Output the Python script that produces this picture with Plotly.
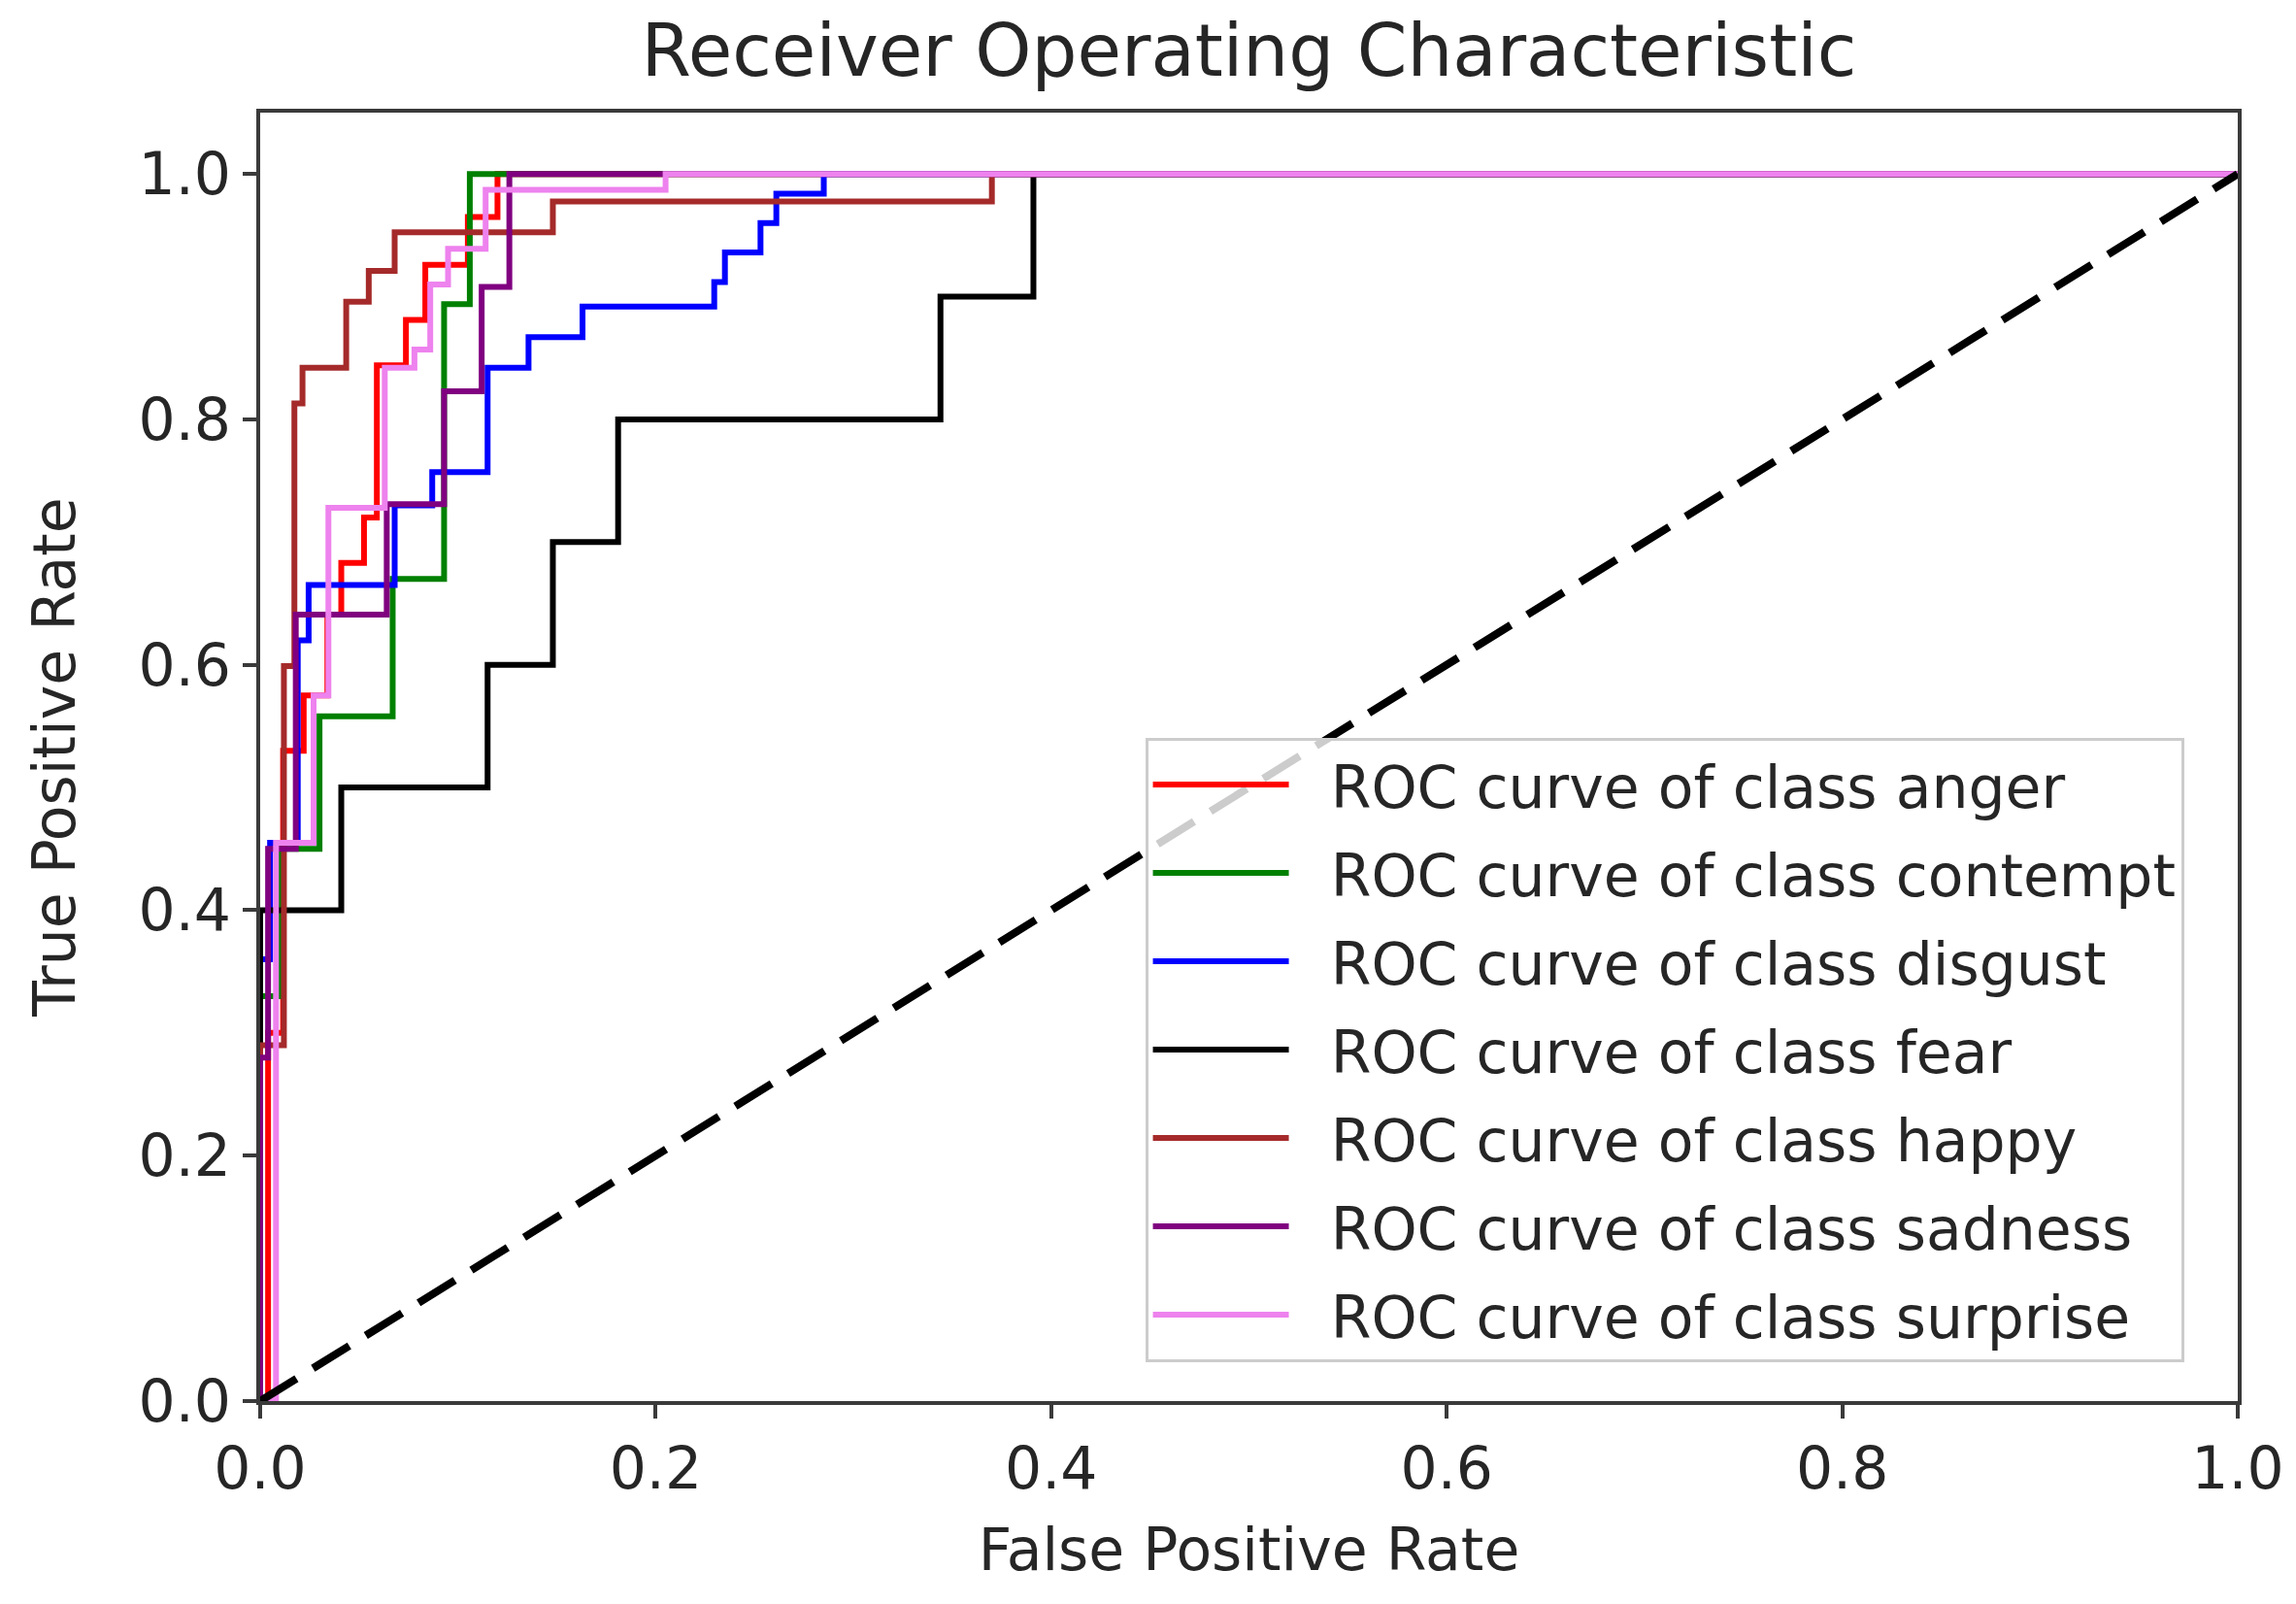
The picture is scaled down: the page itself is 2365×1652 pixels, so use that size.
import plotly.graph_objects as go

# ---------------- data ----------------
class_names = ["anger", "contempt", "disgust", "fear", "happy", "sadness", "surprise"]
class_colors = ["red", "green", "blue", "black", "brown", "purple", "violet"]

fpr_anger = [0.0, 0.004, 0.004, 0.0116, 0.0116, 0.022, 0.022, 0.034, 0.034, 0.041, 0.041, 0.0525,
             0.0525, 0.059, 0.059, 0.0737, 0.0737, 0.0835, 0.0835, 0.105, 0.105, 0.12, 0.12, 1.0]
tpr_anger = [0.0, 0.0, 0.30, 0.30, 0.53, 0.53, 0.575, 0.575, 0.641, 0.641, 0.683, 0.683,
             0.72, 0.72, 0.844, 0.844, 0.881, 0.881, 0.926, 0.926, 0.965, 0.965, 1.0, 1.0]

fpr_contempt = [0.0, 0.0, 0.01, 0.01, 0.03, 0.03, 0.067, 0.067, 0.093, 0.093, 0.106, 0.106, 1.0]
tpr_contempt = [0.0, 0.33, 0.33, 0.45, 0.45, 0.558, 0.558, 0.67, 0.67, 0.894, 0.894, 1.0, 1.0]

fpr_disgust = [0.0, 0.0, 0.005, 0.005, 0.019, 0.019, 0.0245, 0.0245, 0.068, 0.068, 0.087, 0.087,
               0.115, 0.115, 0.1357, 0.1357, 0.163, 0.163, 0.2296, 0.2296, 0.235, 0.235, 0.253, 0.253,
               0.261, 0.261, 0.285, 0.285, 1.0]
tpr_disgust = [0.0, 0.36, 0.36, 0.455, 0.455, 0.62, 0.62, 0.665, 0.665, 0.73, 0.73, 0.757,
               0.757, 0.842, 0.842, 0.867, 0.867, 0.892, 0.892, 0.912, 0.912, 0.936, 0.936, 0.96,
               0.96, 0.984, 0.984, 1.0, 1.0]

fpr_fear = [0.0, 0.0, 0.041, 0.041, 0.115, 0.115, 0.148, 0.148, 0.181, 0.181, 0.344, 0.344,
            0.391, 0.391, 1.0]
tpr_fear = [0.0, 0.4, 0.4, 0.5, 0.5, 0.6, 0.6, 0.7, 0.7, 0.8, 0.8, 0.9, 0.9, 1.0, 1.0]

fpr_happy = [0.0, 0.0, 0.012, 0.012, 0.0173, 0.0173, 0.0214, 0.0214, 0.0435, 0.0435, 0.0549,
             0.0549, 0.068, 0.068, 0.148, 0.148, 0.37, 0.37, 1.0]
tpr_happy = [0.0, 0.29, 0.29, 0.599, 0.599, 0.813, 0.813, 0.842, 0.842, 0.896, 0.896,
             0.921, 0.921, 0.9525, 0.9525, 0.9776, 0.9776, 1.0, 1.0]

fpr_sadness = [0.0, 0.0, 0.004, 0.004, 0.018, 0.018, 0.064, 0.064, 0.093, 0.093, 0.112, 0.112,
               0.126, 0.126, 1.0]
tpr_sadness = [0.0, 0.28, 0.28, 0.45, 0.45, 0.641, 0.641, 0.731, 0.731, 0.823, 0.823, 0.908,
               0.908, 1.0, 1.0]

fpr_surprise = [0.0, 0.008, 0.008, 0.027, 0.027, 0.0345, 0.0345, 0.063, 0.063, 0.078, 0.078,
                0.086, 0.086, 0.095, 0.095, 0.114, 0.114, 0.205, 0.205, 1.0]
tpr_surprise = [0.0, 0.0, 0.455, 0.455, 0.575, 0.575, 0.728, 0.728, 0.842, 0.842, 0.857,
                0.857, 0.91, 0.91, 0.939, 0.939, 0.987, 0.987, 1.0, 1.0]

diag_x = [0.0, 1.0]
diag_y = [0.0, 1.0]

x_ticks = [0.0, 0.2, 0.4, 0.6, 0.8, 1.0]
x_tick_labels = ["0.0", "0.2", "0.4", "0.6", "0.8", "1.0"]
y_ticks = [0.0, 0.2, 0.4, 0.6, 0.8, 1.0]
y_tick_labels = ["0.0", "0.2", "0.4", "0.6", "0.8", "1.0"]

fprs = [fpr_anger, fpr_contempt, fpr_disgust, fpr_fear, fpr_happy, fpr_sadness, fpr_surprise]
tprs = [tpr_anger, tpr_contempt, tpr_disgust, tpr_fear, tpr_happy, tpr_sadness, tpr_surprise]

# ---------------- figure ----------------
FONT = "DejaVu Sans"
TXT = "#262626"
AX = "#3a3a3a"

fig = go.Figure()
for name, col, fx, ty in zip(class_names, class_colors, fprs, tprs):
    fig.add_trace(go.Scatter(
        x=fx, y=ty, mode="lines",
        line=dict(color=col, width=6),
        name="  ROC curve of class " + name,
        legendgroup=name,
    ))

fig.add_trace(go.Scatter(
    x=diag_x, y=diag_y, mode="lines",
    line=dict(color="black", width=8, dash="44px,20px"),
    showlegend=False, hoverinfo="skip",
))

# page body adds an 8px offset; size the figure so the plot area lands where the reference has it
fig.update_layout(
    width=2357, height=1644,
    margin=dict(l=260, r=58, t=108, b=209, pad=0),
    paper_bgcolor="white", plot_bgcolor="white",
    font=dict(family=FONT, size=60, color=TXT),
    title=dict(text="Receiver Operating Characteristic", x=0.5, xref="paper",
               xanchor="center", y=1 - 44 / 1644, yanchor="middle",
               font=dict(family=FONT, size=74, color=TXT)),
    showlegend=True,
    legend=dict(
        x=0.4475, y=0.515, xanchor="left", yanchor="top",
        bgcolor="rgba(255,255,255,0.8)", bordercolor="#cccccc", borderwidth=3,
        font=dict(family=FONT, size=60, color=TXT),
        itemwidth=140, tracegroupgap=10, traceorder="grouped",
    ),
)

fig.update_xaxes(
    range=[0, 1.0], tickvals=x_ticks, ticktext=x_tick_labels,
    showline=True, mirror=True, linecolor=AX, linewidth=4,
    ticks="outside", ticklen=14, tickwidth=4, tickcolor=AX,
    showgrid=False, zeroline=False, ticklabeloverflow="allow",
    title=dict(text="False Positive Rate", font=dict(family=FONT, size=60, color=TXT), standoff=30),
)
fig.update_yaxes(
    range=[0, 1.05], tickvals=y_ticks, ticktext=y_tick_labels,
    showline=True, mirror=True, linecolor=AX, linewidth=4,
    ticks="outside", ticklen=14, tickwidth=4, tickcolor=AX,
    showgrid=False, zeroline=False,
    title=dict(text="True Positive Rate", font=dict(family=FONT, size=60, color=TXT), standoff=47),
)

fig.write_html("out.html")
